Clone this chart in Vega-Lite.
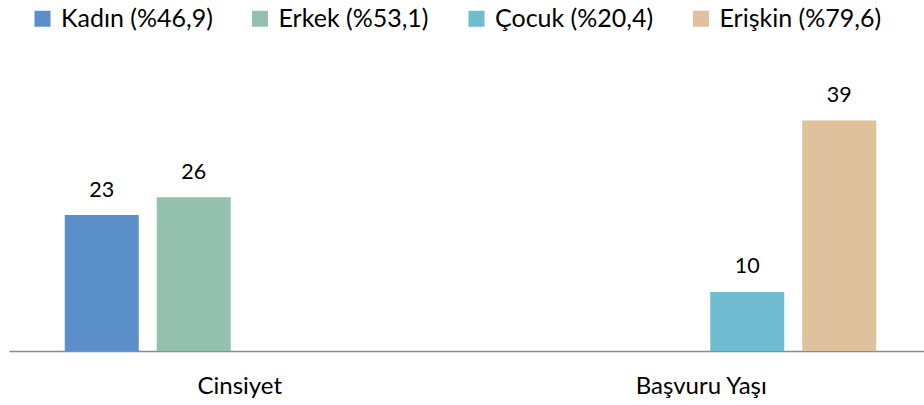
{
  "$schema": "https://vega.github.io/schema/vega-lite/v6.json",
  "autosize": {"type": "none"},
  "width": 915,
  "height": 266,
  "padding": {"left": 9, "top": 85, "right": 0, "bottom": 54},
  "background": "white",
  "config": {
    "view": {"stroke": null},
    "font": "Lato"
  },
  "data": {
    "values": [
      {"kategori": "Cinsiyet", "grup": "Kadın (%46,9)", "sayi": 23},
      {"kategori": "Cinsiyet", "grup": "Erkek (%53,1)", "sayi": 26},
      {"kategori": "Başvuru Yaşı", "grup": "Çocuk (%20,4)", "sayi": 10},
      {"kategori": "Başvuru Yaşı", "grup": "Erişkin (%79,6)", "sayi": 39}
    ]
  },
  "encoding": {
    "x": {
      "field": "kategori",
      "type": "nominal",
      "sort": ["Cinsiyet", "Başvuru Yaşı"],
      "scale": {"range": [0, 923], "paddingInner": 0, "paddingOuter": 0},
      "axis": {
        "title": null,
        "labelAngle": 0,
        "ticks": false,
        "tickSize": 0,
        "labelPadding": 42,
        "labelBaseline": "alphabetic",
        "labelFontSize": 24,
        "labelColor": "#000000",
        "labelFont": "Lato",
        "domainColor": "#8c8c8c",
        "domainWidth": 1.5
      }
    },
    "xOffset": {
      "field": "grup",
      "type": "nominal",
      "scale": {
        "domain": ["Kadın (%46,9)", "Erkek (%53,1)", "Çocuk (%20,4)", "Erişkin (%79,6)"],
        "paddingInner": 0.1957,
        "paddingOuter": 0.606
      }
    },
    "y": {
      "field": "sayi",
      "type": "quantitative",
      "scale": {"domain": [0, 45], "nice": false},
      "axis": null
    }
  },
  "layer": [
    {
      "mark": {"type": "bar"},
      "encoding": {
        "color": {
          "field": "grup",
          "type": "nominal",
          "scale": {
            "domain": ["Kadın (%46,9)", "Erkek (%53,1)", "Çocuk (%20,4)", "Erişkin (%79,6)"],
            "range": ["#5b8fca", "#93c1ae", "#70bcd1", "#dfc19e"]
          },
          "legend": {
            "title": null,
            "orient": "none",
            "direction": "horizontal",
            "legendX": 21,
            "legendY": -79,
            "padding": 0,
            "symbolType": "square",
            "symbolSize": 256,
            "symbolStrokeWidth": 0,
            "symbolOpacity": 1,
            "labelFontSize": 25,
            "labelFont": "Lato",
            "labelColor": "#000000",
            "labelOffset": 6,
            "columnPadding": 34.5,
            "labelLimit": 400
          }
        }
      }
    },
    {
      "mark": {
        "type": "text",
        "baseline": "alphabetic",
        "dy": -18.5,
        "fontSize": 21.5,
        "font": "Lato",
        "color": "#000000"
      },
      "encoding": {
        "text": {"field": "sayi", "type": "quantitative"}
      }
    }
  ]
}
